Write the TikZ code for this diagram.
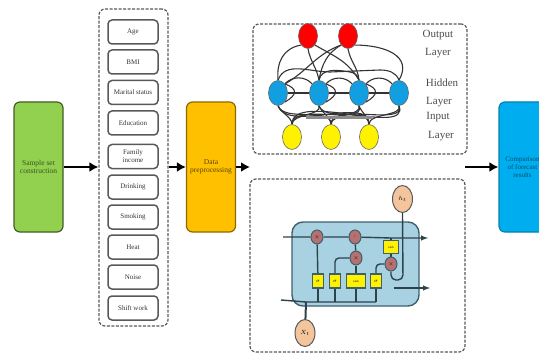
\documentclass[tikz,border=0pt]{standalone}
\usepackage{fontspec}
\setmainfont{Liberation Serif}
\usetikzlibrary{arrows,arrows.meta,positioning,shapes}
\definecolor{stagegreen}{HTML}{92D050}
\definecolor{stageorange}{HTML}{FFC000}
\definecolor{stageblue}{HTML}{00ADEF}
\definecolor{hiddenblue}{HTML}{119FE2}
\definecolor{cellblue}{HTML}{A8D2E2}
\definecolor{celledge}{HTML}{3F5F6C}
\definecolor{gatepink}{HTML}{B5716F}
\definecolor{peach}{HTML}{F4C49C}
\pgfdeclarelayer{wires}
\pgfsetlayers{wires,main}
\tikzset{
    stagebox/.style={draw,rounded corners=6,line width=1.2,minimum width=49,minimum height=130,align=center,font=\fontsize{7.5}{8.5}\selectfont,inner sep=0},
    factorbox/.style={draw=black!65,rounded corners=4,line width=1.5,minimum width=50,minimum height=24,align=center,font=\fontsize{7}{8}\selectfont,text=black!80,inner sep=0},
    panel/.style={draw=black!65,dash pattern=on 3 off 1.5,rounded corners=6,line width=1.2},
    flow/.style={-{Latex[length=9,width=10]},line width=2.6},
    neuron/.style={ellipse,draw=black!60,line width=0.6,minimum width=19,minimum height=25,inner sep=0},
    wire/.style={black!80,line width=1.1},
    layertext/.style={font=\fontsize{11}{12}\selectfont,text=black!70},
    gate/.style={ellipse,draw=celledge,fill=gatepink,line width=1,minimum width=12,minimum height=14,inner sep=0,font=\fontsize{3}{3}\selectfont},
    layerbox/.style={draw=celledge,fill=yellow,line width=1.1,minimum height=14,minimum width=11,inner sep=0,font=\fontsize{3}{3}\selectfont},
    cellline/.style={draw=celledge!70!black,line width=1.4},
    ionode/.style={ellipse,draw=black!65,fill=peach,line width=1,minimum width=20,minimum height=27,inner sep=0,font=\fontsize{6}{6}\selectfont}
}
\begin{document}
\begin{tikzpicture}[x=1pt,y=-1pt]
    \useasboundingbox (0,0) rectangle (539,353);
    % three stages
    \node[stagebox,fill=stagegreen,draw=black!55!stagegreen,text=black!60!stagegreen] (sample) at (38.5,167) {Sample set\\construction};
    \node[stagebox,fill=stageorange,draw=black!45!stageorange,text=black!65!stageorange] (data) at (211,167) {Data\\preprocessing};
    \node[stagebox,fill=stageblue,draw=black!25!stageblue,text=black!55!stageblue,minimum width=47,font=\fontsize{7}{8}\selectfont] (result) at (522.5,167) {Comparison\\of forecast\\results};
    % factors
    \node[panel,minimum width=69,minimum height=317] (factors) at (133.5,167.5) {};
    \node[factorbox] (age) at (133,32) {Age};
    \node[factorbox] (bmi) at (133,62) {BMI};
    \node[factorbox] (marital) at (133,92.5) {Marital status};
    \node[factorbox] (education) at (133,123) {Education};
    \node[factorbox] (income) at (133,156.5) {Family\\income};
    \node[factorbox] (drinking) at (133,187) {Drinking};
    \node[factorbox] (smoking) at (133,217) {Smoking};
    \node[factorbox] (heat) at (133,247) {Heat};
    \node[factorbox] (noise) at (133,277) {Noise};
    \node[factorbox] (shift) at (133,308) {Shift work};
    % panels
    \node[panel,minimum width=214,minimum height=130] (netpanel) at (360,89) {};
    \node[panel,minimum width=215,minimum height=173] (cellpanel) at (357.5,265.5) {};
    \coordinate (modelin) at (250,167);
    \coordinate (modelout) at (465,167);
    \draw[flow] (sample.east|-0,167) -- (factors.west|-0,167);
    \draw[flow] (factors.east|-0,167) -- (data.west|-0,167);
    \draw[flow] (data.east|-0,167) -- (modelin);
    \draw[flow] (modelout) -- (result.west|-0,167);
    % neural net
    \node[neuron,fill=red] (o1) at (308,36) {};
    \node[neuron,fill=red] (o2) at (348,36) {};
    \node[neuron,fill=hiddenblue] (h1) at (278,93) {};
    \node[neuron,fill=hiddenblue] (h2) at (319,93) {};
    \node[neuron,fill=hiddenblue] (h3) at (359,93) {};
    \node[neuron,fill=hiddenblue] (h4) at (399,93) {};
    \node[neuron,fill=yellow] (i1) at (292,137) {};
    \node[neuron,fill=yellow] (i2) at (331,137) {};
    \node[neuron,fill=yellow] (i3) at (369,137) {};
    \coordinate (bandw) at (306,118);
    \coordinate (bande) at (372,118);
    \begin{pgfonlayer}{wires}
    \foreach \a/\b in {h1/h2,h2/h3,h3/h4}{
        \draw[wire] (\a) -- (\b);
        \draw[wire] (\a.north east) to[out=50,in=130] (\b.north west);
        \draw[wire] (\a.north east) to[out=-20,in=30,looseness=2] (\a.south east);
    }
    \draw[wire] (h1.north) to[out=70,in=180] (330,72) -- (380,70) to[out=0,in=110] (h4.north);
    \draw[wire] (h2.north) to[out=80,in=170] (350,72) to[out=-10,in=100] (h3.north);
    \draw[wire] (o1.south west) to[out=190,in=95,looseness=1.1] (h1.north);
    \draw[wire] (o2.south east) to[out=0,in=60,looseness=1.3] (h4.north);
    \draw[wire] (o1.south) to[out=-80,in=100] (h2.north);
    \draw[wire] (o1.south east) to[out=-30,in=120] (h3.north);
    \draw[wire] (o2.south west) to[out=210,in=80] (h2.north);
    \draw[wire] (o2.south) to[out=-80,in=95] (h3.north);
    \draw[wire] (o2.south west) to[out=200,in=30] (h1.north east);
    \foreach \a in {i1,i2,i3}
        \foreach \b in {h1,h2,h3,h4}
            \draw[wire] (\a.north) to[out=90,in=-70,looseness=0.8] (\b.south);
    \draw[black!45,line width=3] (bandw) -- (bande);
    \end{pgfonlayer}
    \node[layertext] (outtxt) at (438,35) {Output};
    \node[layertext] (outtxtb) at (438,53) {Layer};
    \node[layertext] (hidtxt) at (442,83) {Hidden};
    \node[layertext] (hidtxtb) at (439,102) {Layer};
    \node[layertext] (intxt) at (438,117) {Input};
    \node[layertext] (intxtb) at (441,136) {Layer};
    % memory cell
    \node[layerbox] (forget) at (318,281) {$\sigma$};
    \node[layerbox] (update) at (335,281) {$\sigma$};
    \node[layerbox,minimum width=19] (tanh) at (356,281) {tanh};
    \node[layerbox] (output) at (376,281) {$\sigma$};
    \node[layerbox,minimum width=15,minimum height=13] (outtanh) at (391,247) {tanh};
    \node[gate] (g1) at (317,237) {$\times$};
    \node[gate] (g2) at (355,237) {+};
    \node[gate] (g3) at (356,258) {$\times$};
    \node[gate] (g4) at (391,264) {$\times$};
    \node[ionode] (ht) at (402.5,199) {$h_t$};
    \node[ionode] (xt) at (305,333) {$X_t$};
    \coordinate (cin) at (283,237);
    \coordinate (cout) at (428,238);
    \coordinate (hin) at (281,300);
    \coordinate (hout) at (430,288);
    \coordinate (hoff) at (394,288);
    \coordinate (merge) at (306,302);
    \coordinate (busend) at (376,302);
    \begin{pgfonlayer}{wires}
    \node[draw=celledge,fill=cellblue,rounded corners=11,line width=1.4,minimum width=127,minimum height=84] (cell) at (355.5,264) {};
    \draw[cellline,-latex] (cin) -- (g1) -- (g2) -- (outtanh|-cout) -- (cout);
    \draw[cellline] (hin) -- (merge) -- (busend);
    \draw[cellline,line width=2] (xt) -- (merge);
    \draw[cellline,rounded corners=4] (busend) -- (output.south);
    \draw[cellline] (tanh.south) -- (tanh.south|-merge);
    \draw[cellline] (update.south) -- (update.south|-merge);
    \draw[cellline] (forget.south) -- (forget.south|-merge);
    \draw[cellline] (forget) -- (g1);
    \draw[cellline] (tanh) -- (g3);
    \draw[cellline] (g3) -- (g2);
    \draw[cellline,rounded corners=4] (update.north) |- (g3.west);
    \draw[cellline,rounded corners=4] (output.north) |- (g4.west);
    \draw[cellline] (g4) -- (outtanh);
    \draw[cellline] (outtanh) -- (outtanh|-cout);
    \draw[cellline,rounded corners=5] (g4.south) -- (391,280) -- (403,280) -- (ht.south);
    \draw[cellline,-latex] (hoff) -- (hout);
    \end{pgfonlayer}
\end{tikzpicture}
\end{document}
